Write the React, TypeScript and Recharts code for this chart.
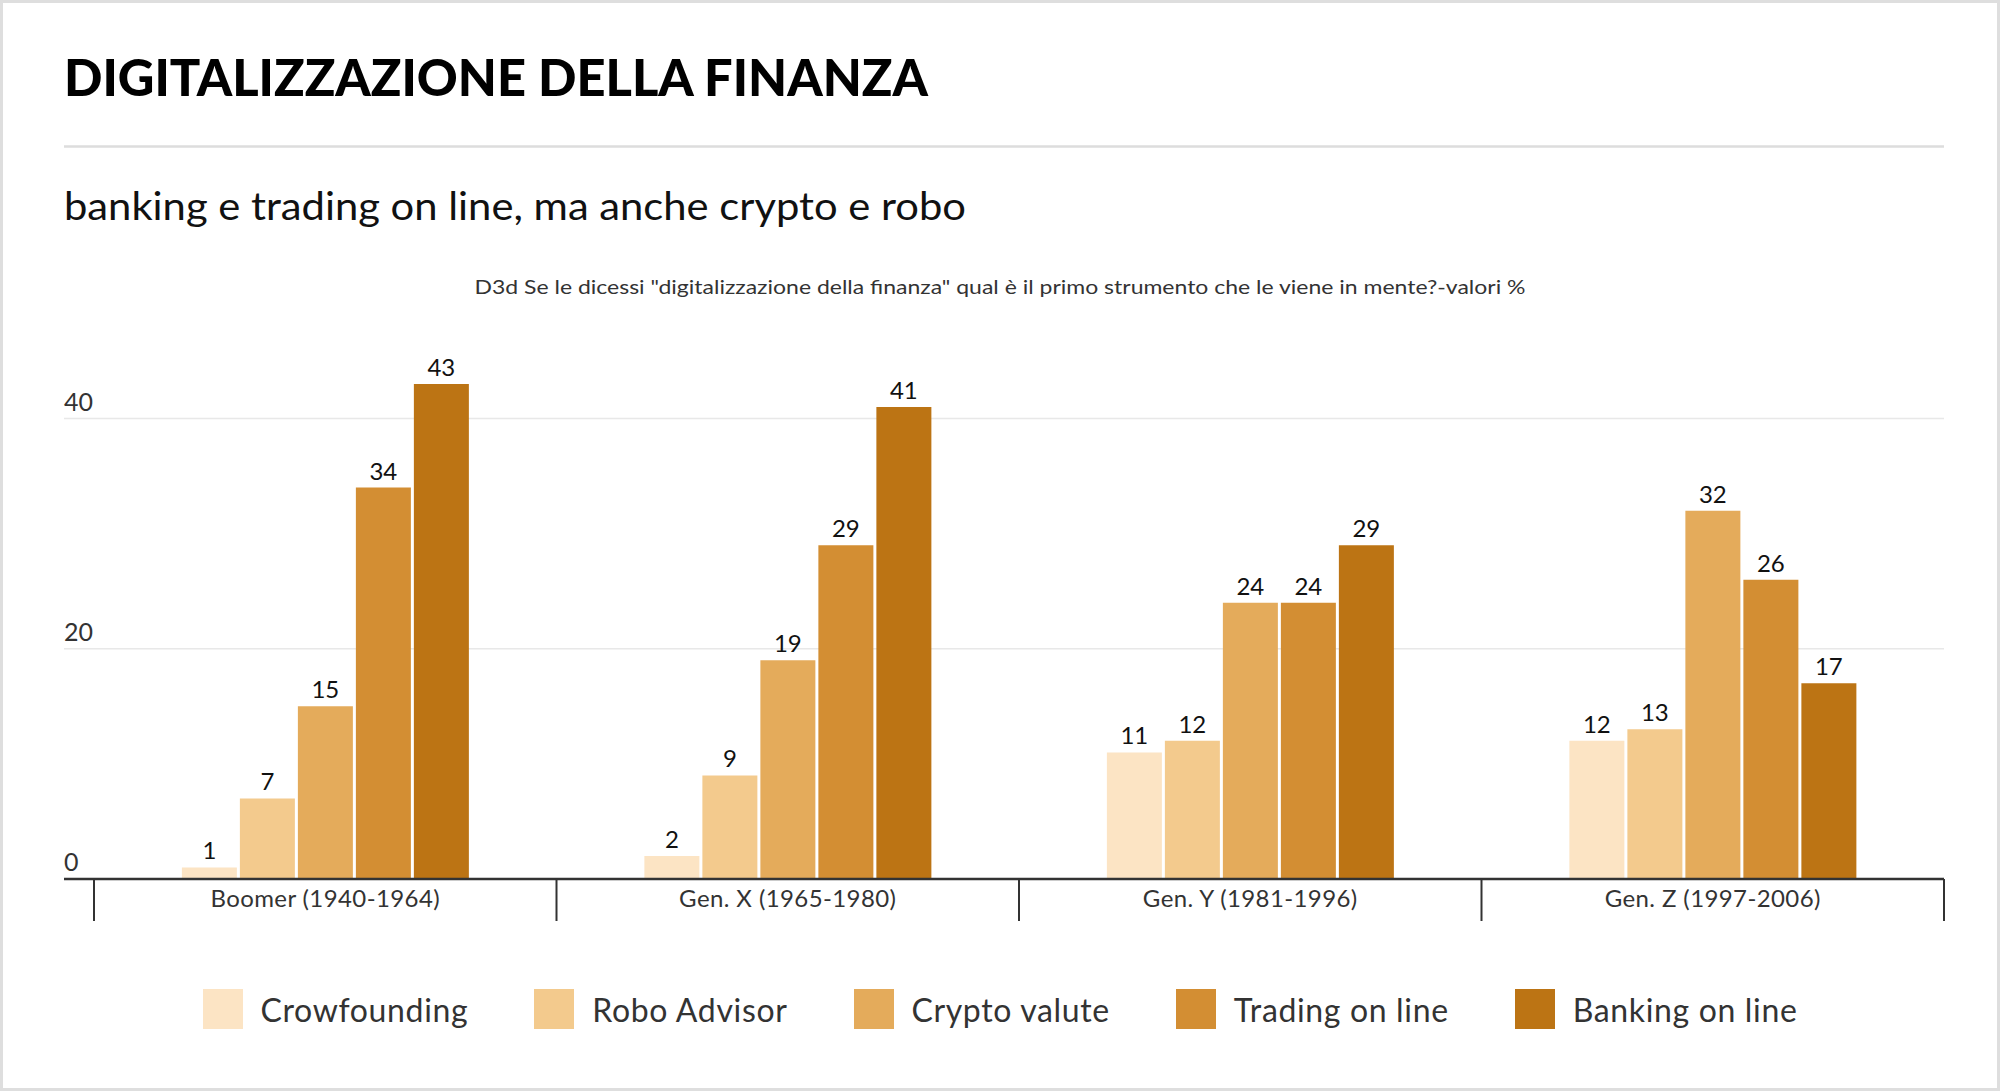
import React from 'react';
import { BarChart, Bar, XAxis, YAxis, CartesianGrid, LabelList, Legend } from 'recharts';

const categories = ['Boomer (1940-1964)', 'Gen. X (1965-1980)', 'Gen. Y (1981-1996)', 'Gen. Z (1997-2006)'];
const seriesNames = ['Crowfounding', 'Robo Advisor', 'Crypto valute', 'Trading on line', 'Banking on line'];
const crowfounding = [1, 2, 11, 12];
const roboAdvisor = [7, 9, 12, 13];
const cryptoValute = [15, 19, 24, 32];
const tradingOnLine = [34, 29, 24, 26];
const bankingOnLine = [43, 41, 29, 17];
const yTicks = [0, 20, 40];
const gridValues = [20, 40];
const seriesColors = ['#fce4c4', '#f3ca8d', '#e4ab5b', '#d38e33', '#bc7414'];

const seriesValues = [crowfounding, roboAdvisor, cryptoValute, tradingOnLine, bankingOnLine];
const seriesKeys = ['s0', 's1', 's2', 's3', 's4'];

const data = categories.map((gen, i) => {
  const row: any = { gen };
  seriesKeys.forEach((k, j) => {
    row[k] = seriesValues[j][i];
  });
  return row;
});

const FONT = "Lato, 'Open Sans', sans-serif";
const W = 2000;
const H = 1091;
const PLOT_LEFT = 64;
const PLOT_RIGHT = 1944;
const PLOT_TOP = 361;
const AXIS_Y = 879;
const X_AXIS_H = 50;
const Y_AXIS_W = 40;
const PAD_LEFT = 30;
const BAND = (PLOT_RIGHT - PLOT_LEFT - PAD_LEFT) / categories.length;

const XTick = (props: any) => {
  const { x, payload, index } = props;
  const half = BAND / 2;
  return (
    <g>
      <line x1={x - half} x2={x - half} y1={AXIS_Y} y2={AXIS_Y + 42} stroke="#333" strokeWidth={2} />
      {index === categories.length - 1 && (
        <line x1={x + half} x2={x + half} y1={AXIS_Y} y2={AXIS_Y + 42} stroke="#333" strokeWidth={2} />
      )}
      <text
        x={x}
        y={AXIS_Y + 28}
        textAnchor="middle"
        fontFamily={FONT}
        fontSize={24}
        letterSpacing={0.4}
        fill="#333"
      >
        {payload.value}
      </text>
    </g>
  );
};

const YTick = (props: any) => {
  const { y, payload } = props;
  return (
    <text x={PLOT_LEFT} y={y - 8} textAnchor="start" fontFamily={FONT} fontSize={25} fill="#333">
      {payload.value}
    </text>
  );
};

const LegendContent = () => (
  <div
    style={{
      display: 'flex',
      justifyContent: 'center',
      alignItems: 'center',
      width: W,
      fontFamily: FONT,
    }}
  >
    {seriesNames.map((name, i) => (
      <div
        key={name}
        style={{
          display: 'flex',
          alignItems: 'center',
          marginRight: i < seriesNames.length - 1 ? 66 : 0,
        }}
      >
        <div style={{ width: 40, height: 40, background: seriesColors[i], marginRight: 18 }} />
        <span style={{ fontSize: 32, color: '#333', letterSpacing: 0.65 }}>{name}</span>
      </div>
    ))}
  </div>
);

export default function App() {
  return (
    <div
      style={{
        position: 'absolute',
        left: 0,
        top: 0,
        width: W,
        height: H,
        background: '#fff',
        boxSizing: 'border-box',
        border: '3px solid #dedede',
        overflow: 'hidden',
      }}
    >
      <svg width={W} height={H} style={{ position: 'absolute', left: -3, top: -3 }}>
        <text
          x={64}
          y={96}
          fontFamily={FONT}
          fontWeight={900}
          fontSize={52}
          fill="#000"
          textLength={864}
          lengthAdjust="spacingAndGlyphs"
        >
          DIGITALIZZAZIONE DELLA FINANZA
        </text>
        <line x1={64} x2={1944} y1={146.5} y2={146.5} stroke="#dddddd" strokeWidth={2.5} />
        <text
          x={64}
          y={220}
          fontFamily={FONT}
          fontSize={38}
          fill="#111"
          textLength={902}
          lengthAdjust="spacingAndGlyphs"
        >
          banking e trading on line, ma anche crypto e robo
        </text>
        <text
          x={1000}
          y={294}
          textAnchor="middle"
          fontFamily={FONT}
          fontSize={20}
          fill="#333"
          textLength={1051}
          lengthAdjust="spacingAndGlyphs"
        >
          D3d Se le dicessi "digitalizzazione della finanza" qual è il primo strumento che le viene in mente?-valori %
        </text>
      </svg>
      <div style={{ position: 'absolute', left: -3, top: -3 }}>
        <BarChart
          width={W}
          height={H}
          data={data}
          margin={{
            top: PLOT_TOP,
            right: W - PLOT_RIGHT,
            bottom: H - AXIS_Y - X_AXIS_H,
            left: PLOT_LEFT - Y_AXIS_W,
          }}
          barCategoryGap="19%"
          barGap={3}
        >
          <CartesianGrid horizontal vertical={false} horizontalValues={gridValues} stroke="#e8e8e8" strokeWidth={1.5} />
          <YAxis
            domain={[0, 45]}
            ticks={yTicks}
            interval={0}
            width={Y_AXIS_W}
            axisLine={false}
            tickLine={false}
            tick={(p: any) => <YTick {...p} />}
          />
          <XAxis
            dataKey="gen"
            height={X_AXIS_H}
            padding={{ left: PAD_LEFT, right: 0 }}
            axisLine={{ stroke: '#333', strokeWidth: 2.5 }}
            tickLine={false}
            interval={0}
            tick={(p: any) => <XTick {...p} />}
          />
          <Legend
            layout="horizontal"
            verticalAlign="middle"
            align="center"
            wrapperStyle={{ top: 989, left: 0, width: W }}
            content={() => <LegendContent />}
          />
          {seriesKeys.map((k, i) => (
            <Bar key={k} dataKey={k} name={seriesNames[i]} fill={seriesColors[i]} isAnimationActive={false}>
              <LabelList
                dataKey={k}
                position="top"
                offset={8}
                fontFamily={FONT}
                fontSize={24}
                fill="#111"
              />
            </Bar>
          ))}
        </BarChart>
      </div>
    </div>
  );
}
